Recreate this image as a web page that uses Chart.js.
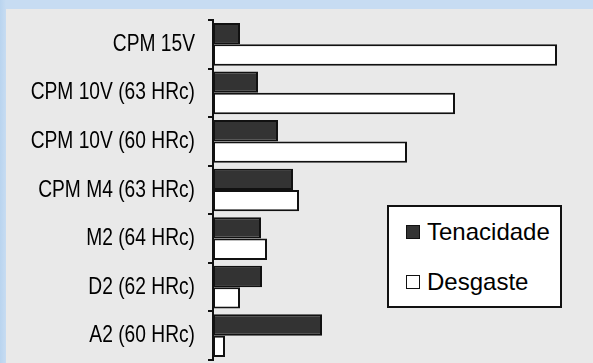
<!DOCTYPE html>
<html lang="pt">
<head>
<meta charset="utf-8">
<script src="https://cdn.jsdelivr.net/npm/chart.js@4/dist/chart.umd.min.js"></script>
<style>
  html, body { margin: 0; padding: 0; }
  body {
    width: 593px; height: 363px; position: relative; overflow: hidden;
    background: linear-gradient(to right, #b9d4ef 0px, #c7dcf2 6px);
    font-family: "Liberation Sans", Arial, sans-serif;
  }
  #panel { position: absolute; left: 6px; top: 9px; right: 0; bottom: 0; background: #e9e9e9; }
  #wrap { position: absolute; left: 0; top: 0; width: 593px; height: 363px; }
  #legend {
    position: absolute; left: 387px; top: 205px; width: 171px; height: 99px;
    background: #fff; border: 2px solid #111;
  }
  .item { position: absolute; left: 17px; height: 26px; display: flex; align-items: center; font-size: 24px; color: #000; }
  .box { width: 12px; height: 12px; border: 1.5px solid #111; margin-right: 7px; }
</style>
</head>
<body>
<div id="panel"></div>
<div id="wrap"><canvas id="toolChart" width="593" height="363"></canvas></div>
<div id="legend"></div>
<script>
// Dados
const categorias = ['CPM 15V', 'CPM 10V (63 HRc)', 'CPM 10V (60 HRc)', 'CPM M4 (63 HRc)', 'M2 (64 HRc)', 'D2 (62 HRc)', 'A2 (60 HRc)'];
const tenacidade = [2.7, 4.5, 6.5, 8.0, 4.8, 4.9, 10.9];
const desgaste = [34.4, 24.2, 19.4, 8.6, 5.4, 2.7, 1.2];
const escalaMax = 38;

// Rótulos do eixo mais estreitos (condensados na horizontal), como no original
const condensar = {
  id: 'condensar',
  afterUpdate(chart) {
    const y = chart.scales.y;
    if (y._condensado) return;
    const desenhar = y.drawLabels;
    y._computeLabelArea = () => undefined; // sem recorte dos rótulos
    y.drawLabels = function (area) {
      const c = this.ctx;
      const ancora = this.right - 18;
      c.save();
      c.translate(ancora, 0);
      c.scale(0.8, 1);
      c.translate(-ancora, 0);
      desenhar.call(this, area);
      c.restore();
    };
    y._condensado = true;
  }
};

const ctx = document.getElementById('toolChart');
const chart = new Chart(ctx.getContext('2d'), {
  type: 'bar',
  data: {
    labels: categorias,
    datasets: [{
      label: 'Tenacidade',
      data: tenacidade,
      backgroundColor: '#333333',
      borderColor: '#111111',
      borderWidth: 2,
      borderSkipped: false
    }, {
      label: 'Desgaste',
      data: desgaste,
      backgroundColor: '#ffffff',
      borderColor: '#111111',
      borderWidth: 2,
      borderSkipped: false
    }]
  },
  options: {
    indexAxis: 'y',
    responsive: false,
    animation: false,
    datasets: { bar: { categoryPercentage: 0.88, barPercentage: 1 } },
    layout: { padding: { top: 20, bottom: 3, left: 0, right: 0 } },
    plugins: { legend: { display: false }, tooltip: { enabled: false } },
    scales: {
      x: { display: false, min: 0, max: escalaMax },
      y: {
        afterFit(scale) {
          scale.width = 213;
          scale.paddingTop = 0;
          scale.paddingBottom = 0;
        },
        border: { display: true, color: '#111111', width: 2 },
        grid: { drawOnChartArea: false, drawTicks: true, tickLength: 5, color: '#111111', lineWidth: 2 },
        ticks: {
          color: '#000000',
          padding: 13,
          font: { family: '"Liberation Sans", Arial, sans-serif', size: 24 }
        }
      }
    }
  },
  plugins: [condensar]
});

// Legenda em caixa branca, construída a partir das séries
const legenda = document.getElementById('legend');
chart.data.datasets.forEach((ds, i) => {
  const item = document.createElement('div');
  item.className = 'item';
  item.style.top = (12 + i * 50) + 'px';
  const box = document.createElement('span');
  box.className = 'box';
  box.style.background = ds.backgroundColor;
  item.appendChild(box);
  item.appendChild(document.createTextNode(ds.label));
  legenda.appendChild(item);
});
</script>
</body>
</html>
